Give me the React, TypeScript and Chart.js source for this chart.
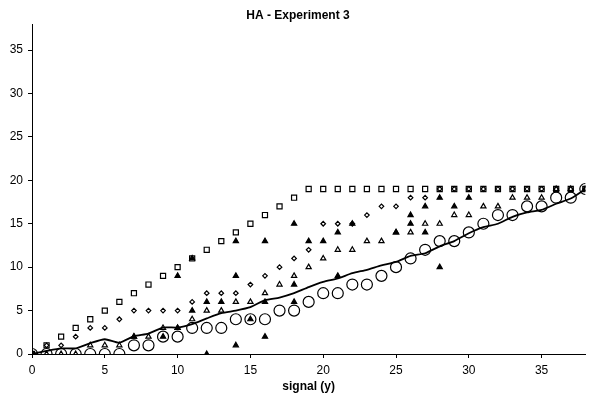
import React, { useEffect, useRef } from "react";
import { Chart, registerables } from "chart.js";

Chart.register(...registerables);

const TITLE = "HA - Experiment 3";
const X_TITLE = "signal (y)";

const xValues = [0,1,2,3,4,5,6,7,8,9,10,11,12,13,14,15,16,17,18,19,20,21,22,23,24,25,26,27,28,29,30,31,32,33,34,35,36,37,38];

const squareY = [0,1,2,3,4,5,6,7,8,9,10,11,12,13,14,15,16,17,18,19,19,19,19,19,19,19,19,19,19,19,19,19,19,19,19,19,19,19,19];
const diamondY = [0,1,1,2,3,3,4,5,5,5,5,6,7,7,7,8,9,10,11,12,15,15,15,16,17,17,18,18,19,19,19,19,19,19,19,19,19,19,19];
const openTriY = [0,0,0,0,1,1,1,2,2,3,3,4,5,5,6,6,7,8,9,10,11,12,12,13,13,14,14,15,15,16,16,17,17,18,18,18,19,19,19];
const circleY = [0,0,0,0,0,0,0,1,1,2,2,3,3,3,4,4,4,5,5,6,7,7,8,8,9,10,11,12,13,13,14,15,16,16,17,17,18,18,19];
const lineY = [0,0.35,0.65,0.65,1.25,1.7,1.3,2.05,2.35,3.05,3.05,3.45,4.1,4.7,5.0,5.4,6.2,6.5,7.0,7.7,8.3,8.7,9.3,9.7,10.2,10.6,11.3,11.6,12.4,13.0,13.9,14.6,15.0,15.8,16.3,16.6,17.3,17.9,19.0];

const filledTriX = [0,7,9,10,10,11,11,12,12,13,14,14,14,15,16,16,16,18,18,18,19,20,21,21,22,25,26,26,27,27,28,28,29,30,38];
const filledTriY = [0,2,2,9,3,11,5,6,0,6,13,9,1,4,13,6,2,15,8,6,13,13,14,9,15,14,16,15,17,14,18,10,17,18,19];

const xTicks = [0,5,10,15,20,25,30,35];
const yTicks = [0,5,10,15,20,25,30,35];

const pts = (xs: number[], ys: number[]) => ys.map((y, i) => ({ x: xs[i], y }));

export default function App() {
  const ref = useRef<HTMLCanvasElement | null>(null);
  useEffect(() => {
    if (!ref.current) return;
    const font = "'Liberation Sans', Arial, sans-serif";
    const titlePlugin = {
      id: "titleText",
      afterDraw(chart: any) {
        const ctx = chart.ctx;
        ctx.save();
        ctx.fillStyle = "#000";
        ctx.font = `bold 12px ${font}`;
        ctx.textAlign = "center";
        ctx.textBaseline = "middle";
        ctx.fillText(TITLE, 298, 16);
        ctx.restore();
      },
    };
    const mk = (label: string, data: any[], style: string, r: number, filled: boolean) => ({
      label,
      data,
      showLine: false,
      pointStyle: style,
      pointRadius: r,
      pointHoverRadius: r,
      pointBorderWidth: 1.2,
      pointBorderColor: "#000",
      pointBackgroundColor: filled ? "#000" : "rgba(0,0,0,0)",
      borderColor: "#000",
      backgroundColor: filled ? "#000" : "rgba(0,0,0,0)",
    });
    const chart = new Chart(ref.current, {
      type: "scatter",
      data: {
        datasets: [
          {
            label: "mean",
            data: pts(xValues, lineY),
            showLine: true,
            borderColor: "#000",
            borderWidth: 1.8,
            pointRadius: 0,
            tension: 0.2,
            fill: false,
          } as any,
          mk("circles", pts(xValues, circleY), "circle", 5.5, false),
          mk("squares", pts(xValues, squareY), "rect", 3.6, false),
          mk("diamonds", pts(xValues, diamondY), "rectRot", 2.3, false),
          mk("openTri", pts(xValues, openTriY), "triangle", 3, false),
          mk("filledTri", pts(filledTriX, filledTriY), "triangle", 3, true),
        ],
      },
      options: {
        animation: false,
        responsive: false,
        maintainAspectRatio: false,
        layout: { padding: { top: 24, right: 1, left: 0, bottom: 0 } },
        plugins: { legend: { display: false }, tooltip: { enabled: false }, title: { display: false } },
        scales: {
          x: {
            type: "linear",
            min: 0,
            max: 38,
            afterBuildTicks: (s: any) => { s.ticks = xTicks.map((v) => ({ value: v })); },
            afterFit: (s: any) => { s.height = 48; },
            ticks: { color: "#000", font: { family: font, size: 12 }, padding: 5, maxRotation: 0 },
            grid: { display: true, drawOnChartArea: false, drawTicks: true, tickLength: 4, color: "#000" },
            border: { display: true, color: "#000", width: 1 },
            title: { display: true, text: X_TITLE, color: "#000", font: { family: font, size: 12, weight: "bold" }, padding: { top: 0, bottom: 8 } },
          },
          y: {
            type: "linear",
            min: 0,
            max: 38,
            afterBuildTicks: (s: any) => { s.ticks = yTicks.map((v) => ({ value: v })); },
            afterFit: (s: any) => { s.width = 32; },
            ticks: { color: "#000", font: { family: font, size: 12 }, padding: 5 },
            grid: { display: true, drawOnChartArea: false, drawTicks: true, tickLength: 4, color: "#000" },
            border: { display: true, color: "#000", width: 1 },
          },
        },
      },
      plugins: [titlePlugin],
    } as any);
    return () => chart.destroy();
  }, []);
  return (
    <div style={{ position: "fixed", left: 0, top: 0, width: 592, height: 402, background: "#fff" }}>
      <canvas ref={ref} width={592} height={402} style={{ width: 592, height: 402 }} />
    </div>
  );
}
